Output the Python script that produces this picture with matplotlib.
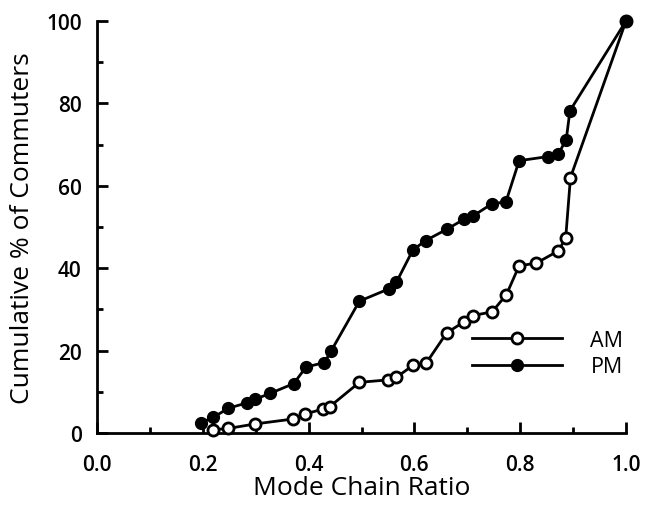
import matplotlib
matplotlib.use("Agg")
import matplotlib.pyplot as plt
from matplotlib.ticker import MultipleLocator

plt.rcParams['font.family'] = ['Open Sans', 'DejaVu Sans']

# AM commuters (open circles)
am_ratio = [0.22, 0.248, 0.299, 0.371, 0.393, 0.427, 0.44, 0.496, 0.551, 0.566,
            0.598, 0.622, 0.661, 0.694, 0.71, 0.747, 0.774, 0.798, 0.83, 0.872,
            0.886, 0.895, 1.0]
am_pct = [0.8, 1.1, 2.2, 3.4, 4.6, 5.8, 6.4, 12.3, 12.9, 13.5,
          16.5, 16.9, 24.3, 27.0, 28.5, 29.4, 33.6, 40.6, 41.2, 44.2,
          47.3, 62.0, 100.0]

# PM commuters (filled circles)
pm_ratio = [0.197, 0.22, 0.248, 0.283, 0.299, 0.327, 0.372, 0.395, 0.43, 0.443,
            0.496, 0.552, 0.566, 0.597, 0.621, 0.662, 0.694, 0.71, 0.746, 0.773,
            0.798, 0.853, 0.872, 0.887, 0.894, 1.0]
pm_pct = [2.5, 3.8, 6.0, 7.3, 8.2, 9.6, 12.0, 16.0, 17.1, 20.0,
          32.0, 35.0, 36.6, 44.4, 46.7, 49.5, 51.9, 52.6, 55.6, 56.1,
          66.1, 67.1, 67.7, 71.2, 78.2, 100.0]

fig = plt.figure(figsize=(6.51, 5.06), dpi=100)
ax = fig.add_axes([97 / 651, 1 - 434 / 506, 529 / 651, 412 / 506])

ax.plot(am_ratio, am_pct, color='black', lw=2.0, marker='o', ms=8,
        mfc='white', mec='black', mew=2.0, clip_on=False, label='AM', zorder=3)
ax.plot(pm_ratio, pm_pct, color='black', lw=2.0, marker='o', ms=8.5,
        mfc='black', mec='black', clip_on=False, label='PM', zorder=3)

ax.set_xlim(0, 1.0)
ax.set_ylim(0, 100)
ax.xaxis.set_major_locator(MultipleLocator(0.2))
ax.xaxis.set_minor_locator(MultipleLocator(0.1))
ax.yaxis.set_major_locator(MultipleLocator(20))
ax.yaxis.set_minor_locator(MultipleLocator(10))
ax.xaxis.set_major_formatter(plt.FormatStrFormatter('%.1f'))

for s in ['top', 'right']:
    ax.spines[s].set_visible(False)
for s in ['left', 'bottom']:
    ax.spines[s].set_linewidth(2.0)

ax.tick_params(which='both', direction='in', width=2.0, labelsize=15)
ax.tick_params(which='major', length=8)
ax.tick_params(which='minor', length=4)
ax.tick_params(axis='x', pad=15)
ax.tick_params(axis='y', pad=11)
for lab in ax.get_xticklabels() + ax.get_yticklabels():
    lab.set_fontweight('semibold')

ax.set_xlabel('Mode Chain Ratio', fontsize=19, labelpad=0)
ax.set_ylabel('Cumulative % of Commuters', fontsize=19, labelpad=8)

ax.legend(loc='upper left', bbox_to_anchor=((472 - 97) / 529, 0.25),
          frameon=False, fontsize=15.5, handlelength=4.2, handletextpad=1.3,
          labelspacing=0.25, borderpad=0, borderaxespad=0)

fig.savefig('out.png', dpi=100)
